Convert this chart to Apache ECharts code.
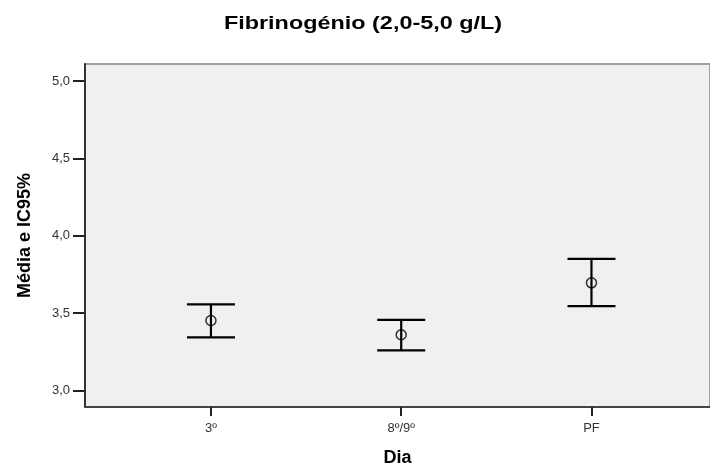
<!DOCTYPE html>
<html>
<head>
<meta charset="utf-8">
<script src="https://cdn.jsdelivr.net/npm/echarts@6/dist/echarts.min.js"></script>
<style>html,body{margin:0;padding:0;background:#fff;}#c{width:710px;height:463px;}</style>
</head>
<body>
<div id="c"></div>
<script>
const categories = ['3º', '8º/9º', 'PF'];
const means = [3.452, 3.36, 3.696];
const lower = [3.343, 3.259, 3.545];
const upper = [3.556, 3.457, 3.851];
const yTicks = [3.0, 3.5, 4.0, 4.5, 5.0];
const titleText = 'Fibrinogénio (2,0-5,0 g/L)';

const chart = echarts.init(document.getElementById('c'));
const FONT = '"Liberation Sans", Arial, sans-serif';

chart.setOption({
  backgroundColor: '#ffffff',
  animation: false,
  graphic: [{
    type: 'text',
    x: 363, y: 24,
    scaleX: 1.3, scaleY: 1,
    style: {
      text: titleText, fontFamily: FONT, fontSize: 18, fontWeight: 'bold',
      fill: '#000', align: 'center', verticalAlign: 'middle'
    }
  }],
  grid: {
    left: 85, top: 64, width: 625, height: 343,
    outerBoundsMode: 'none', containLabel: false,
    show: true, backgroundColor: '#f0f0f0', borderColor: '#a0a0a0', borderWidth: 2
  },
  xAxis: {
    type: 'value',
    min: -0.662, max: 2.623,
    name: 'Dia', nameLocation: 'middle', nameGap: 42,
    nameTextStyle: { fontFamily: FONT, fontSize: 18, fontWeight: 'bold', color: '#000' },
    axisLine: { show: true, onZero: false, lineStyle: { color: '#444', width: 2 } },
    axisTick: { show: true, length: 9, lineStyle: { color: '#222', width: 2 }, customValues: [0, 1, 2] },
    axisLabel: {
      customValues: [0, 1, 2], margin: 15,
      fontFamily: FONT, fontSize: 13, color: '#333',
      formatter: v => categories[Math.round(v)]
    },
    splitLine: { show: false }
  },
  yAxis: {
    type: 'value',
    min: 2.893, max: 5.111,
    name: 'Média e IC95%', nameLocation: 'middle', nameGap: 51,
    nameTextStyle: { fontFamily: FONT, fontSize: 18, fontWeight: 'bold', color: '#000' },
    axisLine: { show: true, onZero: false, lineStyle: { color: '#333', width: 2 } },
    axisTick: { show: true, length: 12, lineStyle: { color: '#222', width: 2 }, customValues: yTicks },
    axisLabel: {
      customValues: yTicks, margin: 15,
      fontFamily: FONT, fontSize: 13, color: '#333',
      formatter: v => v.toFixed(1).replace('.', ',')
    },
    splitLine: { show: false }
  },
  series: [
    {
      type: 'custom',
      data: categories.map((c, i) => [i, lower[i], upper[i]]),
      renderItem: function (params, api) {
        const x = api.value(0);
        const lo = api.coord([x, api.value(1)]);
        const hi = api.coord([x, api.value(2)]);
        const hw = 24;
        const style = { stroke: '#000', lineWidth: 2.2 };
        return {
          type: 'group',
          children: [
            { type: 'line', shape: { x1: lo[0], y1: lo[1], x2: hi[0], y2: hi[1] }, style: style },
            { type: 'line', shape: { x1: lo[0] - hw, y1: lo[1], x2: lo[0] + hw, y2: lo[1] }, style: style },
            { type: 'line', shape: { x1: hi[0] - hw, y1: hi[1], x2: hi[0] + hw, y2: hi[1] }, style: style }
          ]
        };
      },
      z: 2
    },
    {
      type: 'scatter',
      data: means.map((m, i) => [i, m]),
      symbol: 'circle', symbolSize: 10,
      itemStyle: { color: 'rgba(0,0,0,0)', borderColor: '#000', borderWidth: 1.5 },
      z: 3
    }
  ]
});
</script>
</body>
</html>
